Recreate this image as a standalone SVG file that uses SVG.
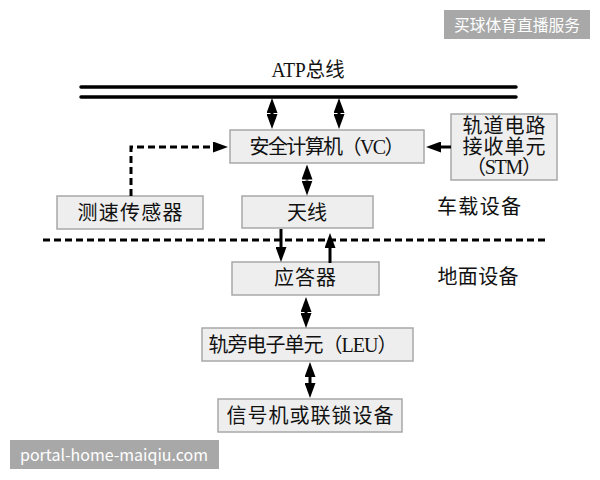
<svg xmlns="http://www.w3.org/2000/svg" width="600" height="480" viewBox="0 0 600 480">
<style>
.box{fill:#eeeeee;stroke:#a8a8a8;stroke-width:1.5}
.t{font-family:"Liberation Serif","Noto Sans CJK SC",serif;font-size:20px;fill:#111;text-anchor:middle}
.ln{stroke:#000;stroke-width:3;fill:none}
.dash{stroke:#000;stroke-width:3;fill:none;stroke-dasharray:7 4}
.bus{stroke:#000;stroke-width:3.5;stroke-linecap:round}
.wm{fill:#a8a8a8}
.wt{font-family:"Noto Sans CJK SC","Noto Sans",sans-serif;fill:#fff;font-size:16px}
</style>
<defs>
<marker id="ah" markerUnits="userSpaceOnUse" markerWidth="15" markerHeight="11" viewBox="0 0 15 11" refX="0" refY="5.5" orient="auto-start-reverse">
<path d="M0,0 L15,5.5 L0,11 z" fill="#000"/>
</marker>
</defs>
<rect width="600" height="480" fill="#fff"/>

<g id="bus">
<text class="t" x="308" y="77" font-size="19" textLength="73" lengthAdjust="spacingAndGlyphs">ATP总线</text>
<line class="bus" x1="81" y1="87" x2="516" y2="87"/>
<line class="bus" x1="81" y1="97" x2="516" y2="97"/>
</g>

<g id="vc">
<rect class="box" x="230" y="130" width="194" height="33"/>
<text class="t" x="327" y="154" textLength="155" lengthAdjust="spacing">安全计算机（VC）</text>
</g>
<g id="stm">
<rect class="box" x="451" y="114" width="106" height="66"/>
<text class="t" x="504" y="133" textLength="83" lengthAdjust="spacing">轨道电路</text>
<text class="t" x="504" y="154" textLength="83" lengthAdjust="spacing">接收单元</text>
<text class="t" x="504" y="174" textLength="76" lengthAdjust="spacing">（STM）</text>
</g>
<g id="speed">
<rect class="box" x="57" y="196" width="146" height="33"/>
<text class="t" x="130" y="220" textLength="105" lengthAdjust="spacing">测速传感器</text>
</g>
<g id="antenna">
<rect class="box" x="242" y="196" width="131" height="32"/>
<text class="t" x="307" y="220" textLength="40" lengthAdjust="spacing">天线</text>
</g>
<text class="t" x="479" y="214" textLength="84" lengthAdjust="spacing">车载设备</text>

<g id="balise">
<rect class="box" x="232" y="262" width="147" height="33"/>
<text class="t" x="305" y="285" textLength="62" lengthAdjust="spacing">应答器</text>
</g>
<text class="t" x="478" y="284" textLength="81" lengthAdjust="spacing">地面设备</text>
<g id="leu">
<rect class="box" x="202" y="328" width="211" height="33"/>
<text class="t" x="303" y="352" textLength="189" lengthAdjust="spacing">轨旁电子单元（LEU）</text>
</g>
<g id="signal">
<rect class="box" x="218" y="399" width="184" height="33"/>
<text class="t" x="310" y="423" textLength="167" lengthAdjust="spacing">信号机或联锁设备</text>
</g>

<line class="dash" x1="43" y1="240" x2="548" y2="240"/>

<g id="connectors">
<line class="ln" x1="272" y1="113" x2="272" y2="114" marker-start="url(#ah)" marker-end="url(#ah)"/>
<line class="ln" x1="339" y1="113" x2="339" y2="114" marker-start="url(#ah)" marker-end="url(#ah)"/>
<line class="ln" x1="307" y1="179.5" x2="307" y2="180.5" marker-start="url(#ah)" marker-end="url(#ah)"/>
<line class="ln" x1="306" y1="312" x2="306" y2="313" marker-start="url(#ah)" marker-end="url(#ah)"/>
<line class="ln" x1="310" y1="377" x2="310" y2="383" marker-start="url(#ah)" marker-end="url(#ah)"/>
<path class="ln" d="M451,147 H441" marker-end="url(#ah)"/>
<path class="dash" d="M131,196 V147 H213" marker-end="url(#ah)"/>
<path class="ln" d="M281,229 V247" marker-end="url(#ah)"/>
<path class="ln" d="M330,263 V248" marker-end="url(#ah)"/>
</g>

<g id="watermarks">
<rect class="wm" x="444" y="10" width="146" height="29"/>
<text class="wt" x="454" y="31" textLength="126" lengthAdjust="spacingAndGlyphs">买球体育直播服务</text>
<rect class="wm" x="10" y="440" width="209" height="29"/>
<text class="wt" x="20" y="461" font-size="17" textLength="188" lengthAdjust="spacingAndGlyphs">portal-home-maiqiu.com</text>
</g>
</svg>
